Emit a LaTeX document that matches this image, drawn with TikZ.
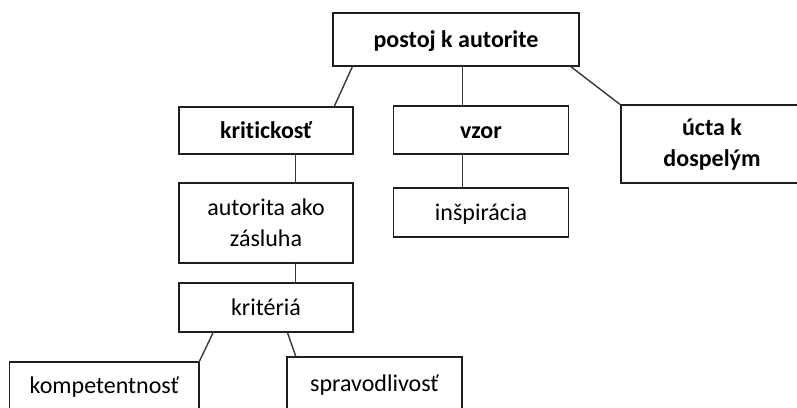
\documentclass[tikz,border=0pt]{standalone}
\usepackage{fontspec}
\setmainfont{Carlito}[Ligatures=NoCommon]
\begin{document}
\begin{tikzpicture}[x=1pt,y=-1pt,
  box/.style={draw=black!88, line width=1.5pt, inner sep=0pt, outer sep=0pt, align=center, text=black,
    font=\fontsize{24}{31}\selectfont},
  boldbox/.style={box, font=\fontsize{24}{31}\selectfont\bfseries},
  oneline/.style={text height=16.5pt, text depth=0pt},
  link/.style={draw=black!78, line width=1.4pt}]
\useasboundingbox (0,0) rectangle (797,407);
\clip (0,0) rectangle (797,407);
\node[boldbox, oneline, minimum width=246pt, minimum height=53pt] (postoj) at (456,39.5) {postoj k autorite};
\node[boldbox, oneline, minimum width=174pt, minimum height=47pt] (krit) at (266,130.5) {kritickosť};
\node[boldbox, oneline, minimum width=175pt, minimum height=48pt] (vzor) at (481,130) {vzor};
\node[boldbox, minimum width=182pt, minimum height=78pt] (ucta) at (712,144.2) {úcta k\\dospelým};
\node[box, minimum width=174pt, minimum height=80pt] (autorita) at (266,223) {autorita ako\\zásluha};
\node[box, oneline, minimum width=175pt, minimum height=49pt] (insp) at (481,212.7) {inšpirácia};
\node[box, oneline, minimum width=174pt, minimum height=49pt] (kriteria) at (266,307.7) {kritériá};
\node[box, oneline, minimum width=189.5pt, minimum height=47pt] (komp) at (104.3,385.5) {kompetentnosť};
\node[box, oneline, minimum width=175pt, minimum height=52pt] (sprav) at (374.5,383) {spravodlivosť};
\draw[link] ([xshift=19.7pt]postoj.south west) -- ([xshift=155pt]krit.north west);
\draw[link] ([xshift=-18.3pt]vzor.north |- postoj.south) -- ([xshift=-18.3pt]vzor.north);
\draw[link] ([xshift=-9pt]postoj.south east) -- (ucta.north west);
\draw[link] ([xshift=29.7pt]krit.south) -- ([xshift=29.7pt]autorita.north);
\draw[link] ([xshift=-18.3pt]vzor.south) -- ([xshift=-18.3pt]insp.north);
\draw[link] ([xshift=29.7pt]autorita.south) -- ([xshift=29.7pt]kriteria.north);
\draw[link] ([xshift=34.3pt]kriteria.south west) -- (komp.north east);
\draw[link] ([xshift=-65.7pt]kriteria.south east) -- ([xshift=9pt]sprav.north west);
\end{tikzpicture}
\end{document}
